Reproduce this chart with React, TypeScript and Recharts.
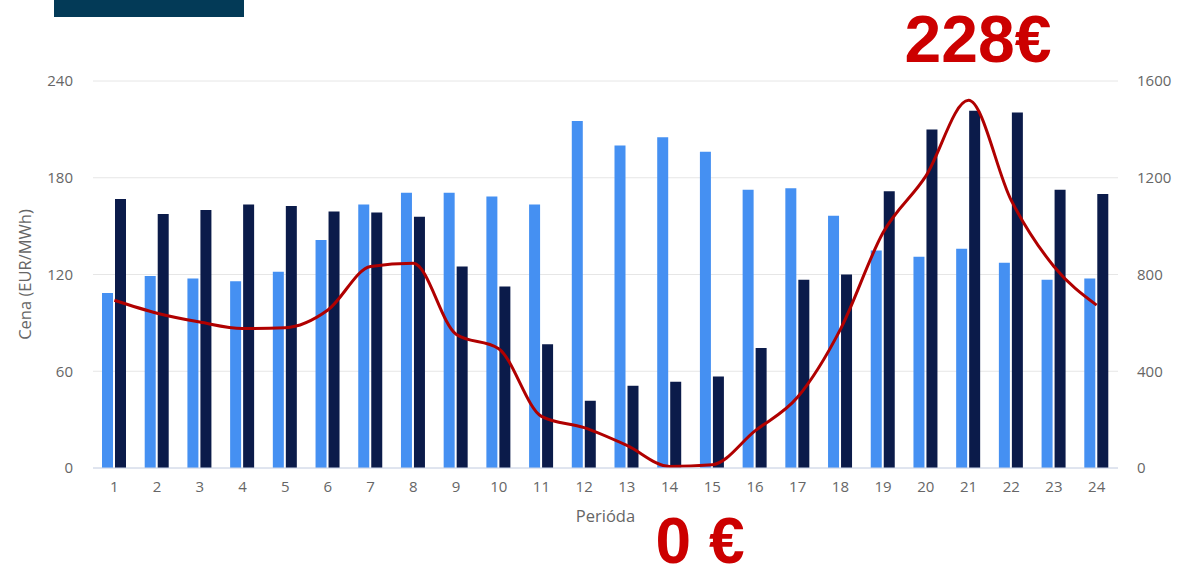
import React from 'react';
import {
  ComposedChart,
  Bar,
  Line,
  XAxis,
  YAxis,
  CartesianGrid,
} from 'recharts';

// hourly periods of the day
const periods = [
  '1', '2', '3', '4', '5', '6', '7', '8', '9', '10', '11', '12',
  '13', '14', '15', '16', '17', '18', '19', '20', '21', '22', '23', '24',
];

// bars, read against the right axis
const lightBars = [
  723, 794, 783, 772, 811, 943, 1089, 1138, 1138, 1122, 1089, 1435,
  1333, 1367, 1307, 1150, 1157, 1043, 899, 873, 906, 849, 778, 783,
];
const darkBars = [
  1112, 1050, 1067, 1089, 1083, 1060, 1056, 1039, 833, 750, 512, 278,
  340, 357, 378, 496, 778, 800, 1144, 1400, 1477, 1470, 1150, 1133,
];

// price line, EUR/MWh on the left axis
const price = [
  104, 96, 90.5, 86.5, 87, 98, 125, 127, 83, 74, 32, 25,
  14, 1, 2, 23, 44, 86, 146, 181, 228, 166, 125, 101,
];

const leftTicks = [0, 60, 120, 180, 240];
const rightTicks = [0, 400, 800, 1200, 1600];

const data = periods.map((p, i) => ({
  period: p,
  light: lightBars[i],
  dark: darkBars[i],
  price: price[i],
}));

const tickStyle = { fill: '#666666', fontSize: 15, fontFamily: 'Open Sans' };

export default function App() {
  return (
    <div
      style={{
        position: 'absolute',
        left: 0,
        top: 0,
        width: 1181,
        height: 577,
        background: '#ffffff',
        overflow: 'hidden',
      }}
    >
      <div
        style={{
          position: 'absolute',
          left: 54,
          top: 0,
          width: 190,
          height: 17,
          background: '#033a57',
        }}
      />
      <ComposedChart
        width={1181}
        height={577}
        data={data}
        margin={{ top: 81, right: 13, bottom: 49, left: 13 }}
        barGap={2}
        barSize={11}
      >
        <CartesianGrid yAxisId="left" vertical={false} stroke="#e6e6e6" />
        <XAxis
          dataKey="period"
          height={60}
          axisLine={{ stroke: '#ccd6eb' }}
          tickLine={false}
          tickSize={0}
          tickMargin={13}
          interval={0}
          tick={tickStyle}
          label={{
            content: ({ viewBox }: any) => (
              <text
                x={viewBox.x + viewBox.width / 2}
                y={522}
                textAnchor="middle"
                fill="#666666"
                fontSize={16.5}
                fontFamily="Open Sans"
              >
                Perióda
              </text>
            ),
          }}
        />
        <YAxis
          yAxisId="left"
          orientation="left"
          width={80}
          domain={[0, 240]}
          ticks={leftTicks}
          axisLine={false}
          tickLine={false}
          tickSize={0}
          tickMargin={20}
          tick={tickStyle}
          label={{
            content: ({ viewBox }: any) => {
              const cy = viewBox.y + viewBox.height / 2;
              return (
                <text
                  x={24}
                  y={cy}
                  transform={`rotate(-90 24 ${cy})`}
                  textAnchor="middle"
                  dominantBaseline="central"
                  fill="#666666"
                  fontSize={16.5}
                  fontFamily="Open Sans"
                >
                  Cena (EUR/MWh)
                </text>
              );
            },
          }}
        />
        <YAxis
          yAxisId="right"
          orientation="right"
          width={50}
          domain={[0, 1600]}
          ticks={rightTicks}
          axisLine={false}
          tickLine={false}
          tickSize={0}
          tickMargin={19}
          tick={tickStyle}
        />
        <Bar yAxisId="right" dataKey="light" fill="#4590f2" isAnimationActive={false} />
        <Bar yAxisId="right" dataKey="dark" fill="#0b1b4a" isAnimationActive={false} />
        <Line
          yAxisId="left"
          type="monotone"
          dataKey="price"
          stroke="#b00000"
          strokeWidth={3}
          dot={false}
          isAnimationActive={false}
        />
      </ComposedChart>
      <svg
        width={1181}
        height={577}
        style={{ position: 'absolute', left: 0, top: 0, pointerEvents: 'none' }}
      >
        <text
          x={978}
          y={62}
          textAnchor="middle"
          fill="#cc0000"
          fontSize={66}
          fontWeight={700}
          fontFamily="Liberation Sans"
        >
          228€
        </text>
        <text
          x={700}
          y={563}
          textAnchor="middle"
          fill="#cc0000"
          fontSize={64}
          fontWeight={700}
          fontFamily="Liberation Sans"
        >
          0 €
        </text>
      </svg>
    </div>
  );
}
